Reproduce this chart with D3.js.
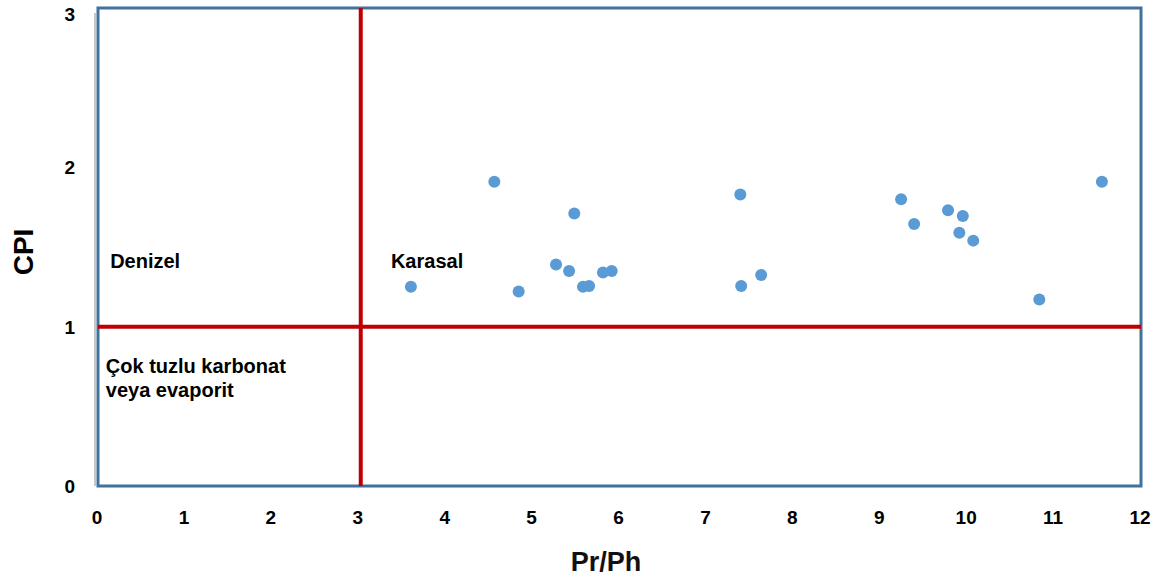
<!DOCTYPE html>
<html>
<head>
<meta charset="utf-8">
<script src="https://cdn.jsdelivr.net/npm/d3@7"></script>
<style>
  body { margin: 0; background: #fff; }
  text { font-family: "Liberation Sans", Arial, sans-serif; font-weight: bold; }
</style>
</head>
<body>
<div id="chart"></div>
<script>
// Pr/Ph vs CPI values
var prph = [3.60, 4.56, 4.84, 5.27, 5.42, 5.48, 5.58, 5.65, 5.81, 5.91, 7.39, 7.40, 7.63, 9.24, 9.39, 9.78, 9.95, 9.91, 10.07, 10.83, 11.55]
var cpi = [1.25, 1.91, 1.22, 1.39, 1.35, 1.71, 1.25, 1.255, 1.34, 1.35, 1.83, 1.255, 1.325, 1.80, 1.645, 1.73, 1.695, 1.59, 1.54, 1.17, 1.91]

var xTicks = [0, 1, 2, 3, 4, 5, 6, 7, 8, 9, 10, 11, 12]
var yTicks = [0, 1, 2, 3]

var xSplit = 3
var ySplit = 1

var regionLabels = [
  { lines: ['Denizel'], x: 0.14, y: 1.37 },
  { lines: ['Karasal'], x: 3.37, y: 1.37 },
  { lines: ['Çok tuzlu karbonat', 'veya evaporit'], x: 0.09, y: 0.71 }
]

var width = 1156
var height = 578
var margin = { top: 8, left: 98, right: 15, bottom: 92 }
var innerW = width - margin.left - margin.right
var innerH = height - margin.top - margin.bottom

var svg = d3.select('#chart')
  .append('svg')
  .attr('width', width)
  .attr('height', height)

var g = svg.append('g')
  .attr('transform', 'translate(' + margin.left + ',' + margin.top + ')')

var xPositionScale = d3.scaleLinear().domain([0, 12]).range([0, innerW])
var yPositionScale = d3.scaleLinear().domain([0, 3]).range([innerH, 0])

// gray axis line just left of the frame
g.append('line')
  .attr('x1', -3).attr('x2', -3)
  .attr('y1', 5).attr('y2', innerH)
  .attr('stroke', '#c8c8c8')
  .attr('stroke-width', 2)

// frame
g.append('rect')
  .attr('x', 0).attr('y', 0)
  .attr('width', innerW).attr('height', innerH)
  .attr('fill', 'none')
  .attr('stroke', '#41719c')
  .attr('stroke-width', 3)

// tick labels
g.selectAll('.xtick')
  .data(xTicks)
  .enter()
  .append('text')
  .attr('class', 'xtick')
  .attr('x', d => xPositionScale(d) - 1)
  .attr('y', innerH + 38)
  .attr('text-anchor', 'middle')
  .attr('font-size', 19)
  .attr('fill', '#000')
  .text(d => d)

g.selectAll('.ytick')
  .data(yTicks)
  .enter()
  .append('text')
  .attr('class', 'ytick')
  .attr('x', -23)
  .attr('y', d => yPositionScale(d) + 7 + (d === 3 ? 6 : 0))
  .attr('text-anchor', 'end')
  .attr('font-size', 19)
  .attr('fill', '#000')
  .text(d => d)

// divider lines
g.append('line')
  .attr('x1', xPositionScale(0)).attr('x2', xPositionScale(12))
  .attr('y1', yPositionScale(ySplit)).attr('y2', yPositionScale(ySplit))
  .attr('stroke', '#c00000')
  .attr('stroke-width', 4)

g.append('line')
  .attr('x1', xPositionScale(xSplit) + 2).attr('x2', xPositionScale(xSplit) + 2)
  .attr('y1', yPositionScale(3)).attr('y2', yPositionScale(0))
  .attr('stroke', '#c00000')
  .attr('stroke-width', 4)

// region labels
regionLabels.forEach(function(lab) {
  var t = g.append('text')
    .attr('x', xPositionScale(lab.x))
    .attr('y', yPositionScale(lab.y))
    .attr('font-size', 20)
    .attr('fill', '#000')
  lab.lines.forEach(function(line, i) {
    t.append('tspan')
      .attr('x', xPositionScale(lab.x))
      .attr('dy', i === 0 ? 0 : 24)
      .text(line)
  })
})

// points
var points = prph.map((d, i) => ({ x: d, y: cpi[i] }))
g.selectAll('.dot')
  .data(points)
  .enter()
  .append('circle')
  .attr('class', 'dot')
  .attr('cx', d => xPositionScale(d.x))
  .attr('cy', d => yPositionScale(d.y))
  .attr('r', 6)
  .attr('fill', '#5b9bd5')

// axis titles
svg.append('text')
  .attr('x', 606)
  .attr('y', 571)
  .attr('text-anchor', 'middle')
  .attr('font-size', 27)
  .attr('fill', '#111')
  .text('Pr/Ph')

svg.append('text')
  .attr('transform', 'translate(33,252) rotate(-90)')
  .attr('text-anchor', 'middle')
  .attr('font-size', 28)
  .attr('fill', '#000')
  .text('CPI')
</script>
</body>
</html>
